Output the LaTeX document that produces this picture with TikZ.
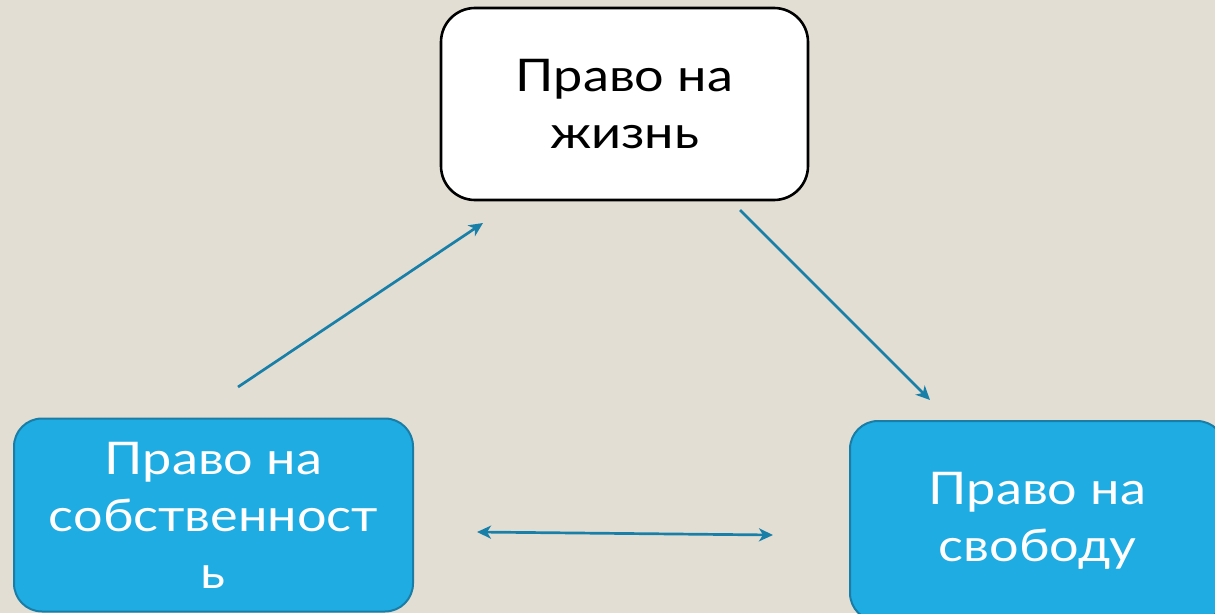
\documentclass[tikz,border=0pt]{standalone}
\usepackage{fontspec}
\setmainfont{Lato}[FakeStretch=1.16]
\usetikzlibrary{arrows.meta}
\definecolor{bg}{RGB}{227,222,211}
\definecolor{boxblue}{RGB}{30,172,227}
\definecolor{edgeblue}{RGB}{26,125,165}
\definecolor{arrowblue}{RGB}{24,128,168}
\tikzset{
  boxtext/.style={font=\fontsize{45}{57}\selectfont, align=center, inner sep=0pt},
  whitebox/.style={boxtext, draw=black, line width=2.6pt, fill=white, rounded corners=34pt, text=black},
  bluebox/.style={boxtext, draw=edgeblue, line width=2pt, fill=boxblue, rounded corners=28pt, text=white},
  conn/.style={draw=arrowblue, line width=2.7pt, -{Stealth[length=14pt,width=13pt,inset=4pt]}},
  dconn/.style={conn, {Stealth[length=14pt,width=13pt,inset=4pt]}-{Stealth[length=14pt,width=13pt,inset=4pt]}}
}
\begin{document}
\begin{tikzpicture}[x=1pt,y=-1pt]
\fill[bg] (0,0) rectangle (1215,613);
\useasboundingbox (0,0) rectangle (1215,613);
\clip (0,0) rectangle (1215,613);
\node[whitebox, minimum width=367pt, minimum height=192pt] (life) at (624.5,104) {Право на\\жизнь};
\node[bluebox, minimum width=399pt, minimum height=193pt] (prop) at (213.5,515) {Право на\\собственност\\ь};
\node[bluebox, minimum width=375pt, minimum height=200pt] (free) at (1037.5,521) {Право на\\свободу};
\coordinate (a1s) at (238,387);
\coordinate (a1e) at (483,223);
\coordinate (a2s) at (740,210);
\coordinate (a2e) at (930,400);
\coordinate (a3s) at (477,532);
\coordinate (a3e) at (773,535);
\draw[conn] (a1s) -- (a1e);
\draw[conn] (a2s) -- (a2e);
\draw[dconn] (a3s) -- (a3e);
\end{tikzpicture}
\end{document}
